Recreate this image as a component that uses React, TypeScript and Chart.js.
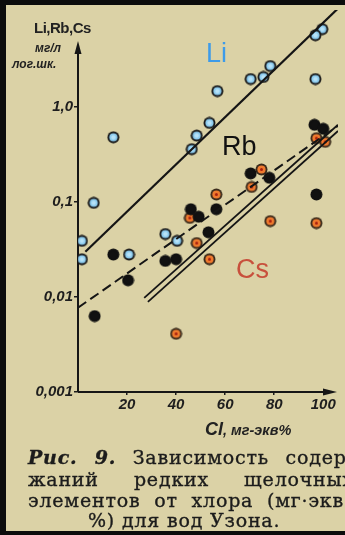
import React, { useEffect, useRef } from "react";
import { Chart, registerables } from "chart.js";
Chart.register(...registerables);

// ---- tick data ----
const xTicks = [20, 40, 60, 80, 100];
const yTicks = [0.001, 0.01, 0.1, 1];
const yTickLabels = ["0,001", "0,01", "0,1", "1,0"];

// ---- Li (light blue) ----
const liX = [99.6, 96.8, 78.4, 75.6, 70.4, 96.8, 56.8, 53.6, 48.4, 46.4, 14.4, 6.4, 1.6, 1.6, 20.8, 35.6, 40.4];
const liY = [6.6, 5.7, 2.7, 2.07, 1.97, 1.97, 1.47, 0.68, 0.5, 0.36, 0.48, 0.098, 0.039, 0.025, 0.028, 0.046, 0.039];

// ---- Rb (black) ----
const rbX = [6.8, 14.4, 20.4, 35.6, 40, 46, 49.2, 53.2, 56.4, 70.4, 78, 96.4, 100, 97.2];
const rbY = [0.0063, 0.028, 0.015, 0.024, 0.025, 0.084, 0.07, 0.048, 0.084, 0.2, 0.18, 0.65, 0.59, 0.12];

// ---- Cs (orange) ----
const csX = [97.2, 100.8, 74.8, 70.8, 56.4, 45.6, 78.4, 97.2, 48.4, 53.6, 40];
const csY = [0.47, 0.43, 0.22, 0.144, 0.12, 0.068, 0.063, 0.06, 0.037, 0.025, 0.0041];

// ---- trend lines (end points) ----
const liLineX = [3, 106];
const liLineY = [0.03, 10.9];
const rbLineX = [0, 106];
const rbLineY = [0.0077, 0.635];
const csLine1X = [27, 106];
const csLine1Y = [0.0098, 0.65];
const csLine2X = [28.5, 106];
const csLine2Y = [0.0089, 0.56];

const X_MIN = 0;
const X_MAX = 106;
const Y_MIN = 0.001;
const Y_MAX = 10.5;

const pts = (xs: number[], ys: number[]) => xs.map((x, i) => ({ x, y: ys[i] }));

function makeMarker(ring: string, fill: string, center?: string, highlight?: string) {
  const c = document.createElement("canvas");
  c.width = 13;
  c.height = 13;
  const g = c.getContext("2d")!;
  g.beginPath();
  g.arc(6.5, 6.5, 6, 0, Math.PI * 2);
  g.fillStyle = ring;
  g.fill();
  g.beginPath();
  g.arc(6.5, 6.5, 4.1, 0, Math.PI * 2);
  g.fillStyle = fill;
  g.fill();
  if (highlight) {
    g.beginPath();
    g.arc(6.5, 6.5, 2.2, 0, Math.PI * 2);
    g.fillStyle = highlight;
    g.fill();
  }
  if (center) {
    g.beginPath();
    g.arc(6.5, 6.5, 1.5, 0, Math.PI * 2);
    g.fillStyle = center;
    g.fill();
  }
  return c;
}

const axesPlugin = {
  id: "arrowAxes",
  beforeDatasetsDraw(chart: any) {
    const { ctx, chartArea } = chart;
    const l = chartArea.left;
    const b = chartArea.bottom;
    const yTip = chartArea.top + 31;
    const xTip = chartArea.right - 1;
    ctx.save();
    ctx.strokeStyle = "#161616";
    ctx.fillStyle = "#161616";
    ctx.lineWidth = 2;
    ctx.beginPath();
    ctx.moveTo(l, b);
    ctx.lineTo(l, yTip + 8);
    ctx.moveTo(l, b);
    ctx.lineTo(xTip - 8, b);
    ctx.stroke();
    ctx.beginPath();
    ctx.moveTo(l, yTip);
    ctx.lineTo(l - 3.5, yTip + 13);
    ctx.lineTo(l + 3.5, yTip + 13);
    ctx.closePath();
    ctx.fill();
    ctx.beginPath();
    ctx.moveTo(xTip, b);
    ctx.lineTo(xTip - 14, b - 3.5);
    ctx.lineTo(xTip - 14, b + 3.5);
    ctx.closePath();
    ctx.fill();
    ctx.restore();
  },
};

export default function App() {
  const ref = useRef<HTMLCanvasElement>(null);

  useEffect(() => {
    if (!ref.current) return;
    const liMark = makeMarker("#1a1a1a", "#8ccbee", undefined, "#b7e2f7");
    const rbMark = makeMarker("#111111", "#111111");
    const csMark = makeMarker("#3b2b1c", "#ef7a2e", "#a8200f");
    const lineDs = (xs: number[], ys: number[], dash: number[] = [], w = 2) => ({
      type: "line" as const,
      data: pts(xs, ys),
      showLine: true,
      borderColor: "#151515",
      borderWidth: w,
      borderDash: dash,
      pointRadius: 0,
      fill: false,
      tension: 0,
    });
    const chart = new Chart(ref.current, {
      type: "scatter",
      data: {
        datasets: [
          lineDs(liLineX, liLineY, [], 2.2),
          lineDs(rbLineX, rbLineY, [10, 5], 2),
          lineDs(csLine1X, csLine1Y, [], 1.8),
          lineDs(csLine2X, csLine2Y, [], 1.8),
          { data: pts(liX, liY), pointStyle: liMark as any, pointRadius: 6 },
          { data: pts(rbX, rbY), pointStyle: rbMark as any, pointRadius: 6 },
          { data: pts(csX, csY), pointStyle: csMark as any, pointRadius: 6 },
        ] as any,
      },
      plugins: [axesPlugin],
      options: {
        animation: false,
        responsive: false,
        maintainAspectRatio: false,
        devicePixelRatio: 1,
        layout: { padding: { left: 0, top: 10, right: 2, bottom: 0 } },
        plugins: { legend: { display: false }, tooltip: { enabled: false } },
        scales: {
          x: {
            type: "linear",
            min: X_MIN,
            max: X_MAX,
            bounds: "data",
            afterBuildTicks: (s: any) => {
              s.ticks = xTicks.map((v) => ({ value: v }));
            },
            afterFit: (s: any) => {
              s.height = 28;
            },
            grid: { display: true, drawOnChartArea: false, drawTicks: true, tickLength: 3, color: "#1a1a1a", lineWidth: 1.5 },
            border: { display: false },
            ticks: {
              autoSkip: false,
              maxRotation: 0,
              padding: 1,
              color: "#1e1e1e",
              font: { family: "'Liberation Sans', Arial, sans-serif", size: 15, style: "italic", weight: "bold" },
            },
          },
          y: {
            type: "logarithmic",
            min: Y_MIN,
            max: Y_MAX,
            bounds: "data",
            afterBuildTicks: (s: any) => {
              s.ticks = yTicks.map((v) => ({ value: v }));
            },
            afterFit: (s: any) => {
              s.width = 78;
            },
            grid: { display: true, drawOnChartArea: false, drawTicks: true, tickLength: 4, color: "#1a1a1a", lineWidth: 1.5 },
            border: { display: false },
            ticks: {
              autoSkip: false,
              padding: 1,
              color: "#1e1e1e",
              font: { family: "'Liberation Sans', Arial, sans-serif", size: 15, style: "italic", weight: "bold" },
              callback: (v: any) => {
                const i = yTicks.indexOf(Number(v));
                return i >= 0 ? yTickLabels[i] : "";
              },
            },
          },
        },
      } as any,
    });
    return () => chart.destroy();
  }, []);

  const sans = "'Liberation Sans', Arial, sans-serif";
  const serif = "'DejaVu Serif', 'Liberation Serif', serif";
  const capLine: React.CSSProperties = {
    position: "absolute",
    left: 28,
    width: 326,
    fontFamily: serif,
    fontSize: 19,
    letterSpacing: 0.8,
    lineHeight: "21px",
    color: "#1c1c1c",
    textAlign: "justify",
    textAlignLast: "justify" as any,
    whiteSpace: "nowrap",
    WebkitTextStroke: "0.35px #1c1c1c",
  };

  return (
    <div
      style={{
        position: "fixed",
        left: 0,
        top: 0,
        width: 345,
        height: 535,
        background: "#dbd2a6",
        overflow: "hidden",
      }}
    >
      <canvas ref={ref} width={345} height={420} style={{ position: "absolute", left: 0, top: 0 }} />

      {/* frame */}
      <div style={{ position: "absolute", left: 0, top: 0, width: 345, height: 5, background: "#0c0c0c" }} />
      <div style={{ position: "absolute", left: 0, top: 0, width: 6, height: 535, background: "#0c0c0c" }} />
      <div style={{ position: "absolute", left: 0, top: 531, width: 345, height: 4, background: "#0c0c0c" }} />

      {/* y axis header */}
      <div style={{ position: "absolute", left: 34, top: 19, fontFamily: sans, fontWeight: "bold", fontSize: 15, color: "#222", letterSpacing: -0.5 }}>
        Li,Rb,Cs
      </div>
      <div style={{ position: "absolute", left: 35, top: 41, fontFamily: sans, fontWeight: "bold", fontStyle: "italic", fontSize: 12, color: "#222" }}>
        мг/л
      </div>
      <div style={{ position: "absolute", left: 12, top: 57, fontFamily: sans, fontWeight: "bold", fontStyle: "italic", fontSize: 12, color: "#222" }}>
        лог.шк.
      </div>

      {/* series labels */}
      <div style={{ position: "absolute", left: 206, top: 40, fontFamily: sans, fontSize: 27, lineHeight: 1, color: "#3d9be9" }}>Li</div>
      <div style={{ position: "absolute", left: 222, top: 133, fontFamily: sans, fontSize: 27, lineHeight: 1, color: "#111" }}>Rb</div>
      <div style={{ position: "absolute", left: 236, top: 256, fontFamily: sans, fontSize: 27, lineHeight: 1, color: "#c8503c" }}>Cs</div>

      {/* x axis title */}
      <div style={{ position: "absolute", left: 205, top: 419, fontFamily: sans, fontStyle: "italic", fontWeight: "bold", fontSize: 14.5, color: "#222", whiteSpace: "nowrap" }}>
        <span style={{ fontSize: 18 }}>Cl</span>, мг-экв%
      </div>

      {/* caption */}
      <div style={{ ...capLine, top: 447 }}>
        <i style={{ fontWeight: "bold" }}>Рис. 9.</i> Зависимость содер-
      </div>
      <div style={{ ...capLine, top: 469 }}>жаний редких щелочных</div>
      <div style={{ ...capLine, top: 490, width: 316 }}>элементов от хлора (мг·экв</div>
      <div style={{ ...capLine, top: 510, left: 88, width: "auto", textAlign: "left", textAlignLast: "left" as any }}>%) для вод Узона.</div>
    </div>
  );
}
